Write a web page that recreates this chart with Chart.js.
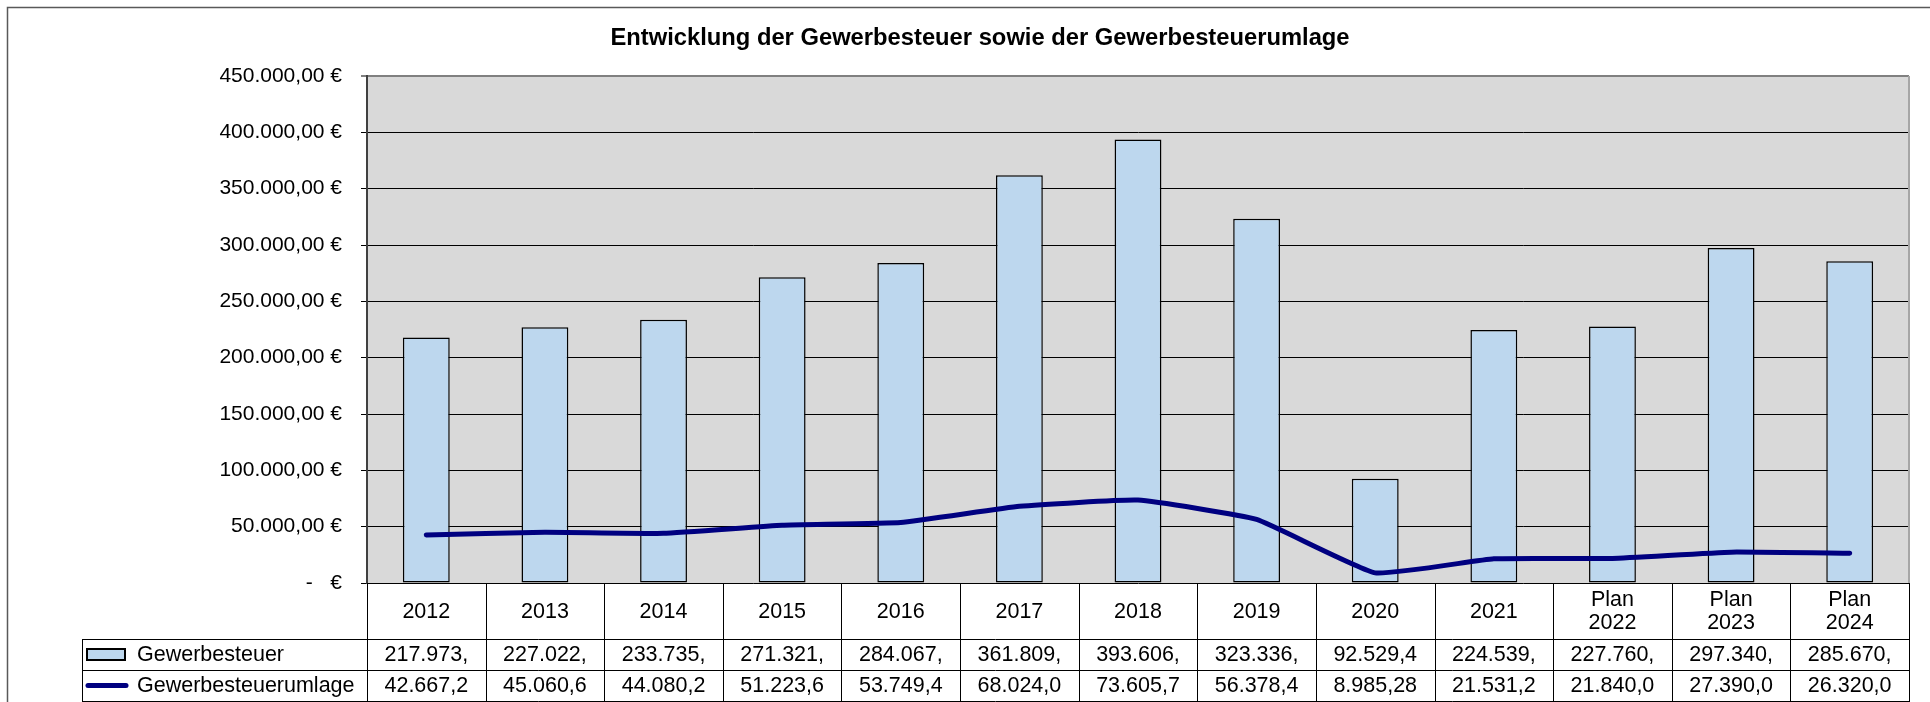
<!DOCTYPE html>
<html lang="de">
<head>
    <meta charset="UTF-8">
    <title>Entwicklung der Gewerbesteuer</title>
    <script src="https://cdn.jsdelivr.net/npm/chart.js"></script>
    <style>
        body {
            margin: 0;
            background: #fff;
        }
        #chart {
            display: block;
        }
    </style>
    <script type="text/javascript">
        var chartTitle = 'Entwicklung der Gewerbesteuer sowie der Gewerbesteuerumlage';
        var categories = ['2012', '2013', '2014', '2015', '2016', '2017', '2018', '2019', '2020', '2021',
            ['Plan', '2022'], ['Plan', '2023'], ['Plan', '2024']];
        var seriesNames = ['Gewerbesteuer', 'Gewerbesteuerumlage'];
        var gewerbesteuer = [217973, 227022, 233735, 271321, 284067, 361809, 393606, 323336, 92529.4, 224539, 227760, 297340, 285670];
        var umlage = [42667.2, 45060.6, 44080.2, 51223.6, 53749.4, 68024.0, 73605.7, 56378.4, 8985.28, 21531.2, 21840.0, 27390.0, 26320.0];
        var yMin = 0;
        var yMax = 450000;
        var yStep = 50000;

        var FONT = '"Liberation Sans", Arial, sans-serif';
        var barFill = '#BDD7EE';
        var lineColor = '#000080';

        // German currency format, 1234.5 -> "1.234,50 €"
        function euro(v) {
            var parts = v.toFixed(2).split('.');
            var whole = parts[0].replace(/\B(?=(\d{3})+(?!\d))/g, '.');
            return whole + ',' + parts[1] + ' €';
        }

        // Excel cuts the text of a data table cell when it does not fit
        function fitText(ctx, s, maxW) {
            while (s.length > 0 && ctx.measureText(s).width > maxW) {
                s = s.slice(0, -1);
            }
            return s.replace(/\s+$/, '');
        }

        var sheetPlugin = {
            id: 'sheet',
            beforeDraw: function(chart) {
                var ctx = chart.ctx;
                var a = chart.chartArea;
                ctx.save();
                ctx.fillStyle = '#D9D9D9';
                ctx.fillRect(a.left, a.top, a.right - a.left, a.bottom - a.top);
                // outer frame of the chart object
                ctx.strokeStyle = '#595959';
                ctx.lineWidth = 1.5;
                ctx.beginPath();
                ctx.moveTo(7.5, 710);
                ctx.lineTo(7.5, 7.5);
                ctx.lineTo(1940, 7.5);
                ctx.stroke();
                // title
                ctx.fillStyle = '#000';
                ctx.font = 'bold 23.75px ' + FONT;
                ctx.textAlign = 'center';
                ctx.textBaseline = 'middle';
                ctx.fillText(chartTitle, 980, 38);
                ctx.restore();
            },
            afterDraw: function(chart) {
                var ctx = chart.ctx;
                var a = chart.chartArea;
                var x = chart.scales.x;
                var half = (x.getPixelForValue(1) - x.getPixelForValue(0)) / 2;
                var top = a.bottom;
                var row0 = top + 56;
                var row1 = row0 + 31;
                var row2 = row1 + 31;
                var legendLeft = 82;

                ctx.save();
                // right edge of plot area
                ctx.strokeStyle = '#A6A6A6';
                ctx.lineWidth = 2;
                ctx.beginPath();
                ctx.moveTo(a.right, a.top);
                ctx.lineTo(a.right, a.bottom);
                ctx.stroke();

                // table grid
                ctx.strokeStyle = '#000';
                ctx.lineWidth = 1;
                ctx.beginPath();
                [row0, row1, row2].forEach(function(y) {
                    ctx.moveTo(legendLeft, Math.round(y) + 0.5);
                    ctx.lineTo(a.right, Math.round(y) + 0.5);
                });
                ctx.moveTo(legendLeft + 0.5, row0);
                ctx.lineTo(legendLeft + 0.5, row2 + 1);
                for (var i = 0; i <= categories.length; i++) {
                    var xe = Math.round(x.getPixelForValue(i) - half) + 0.5;
                    ctx.moveTo(xe, top);
                    ctx.lineTo(xe, row2 + 1);
                }
                ctx.stroke();

                // category row
                ctx.fillStyle = '#000';
                ctx.font = '21.5px ' + FONT;
                ctx.textAlign = 'center';
                ctx.textBaseline = 'middle';
                var catMid = (top + row0) / 2;
                categories.forEach(function(c, i) {
                    var cx = x.getPixelForValue(i);
                    if (Array.isArray(c)) {
                        ctx.fillText(c[0], cx, catMid - 11);
                        ctx.fillText(c[1], cx, catMid + 12);
                    } else {
                        ctx.fillText(c, cx, catMid + 1);
                    }
                });

                // data rows
                var rows = [gewerbesteuer, umlage];
                var mids = [(row0 + row1) / 2 + 1, (row1 + row2) / 2 + 1];
                rows.forEach(function(vals, r) {
                    vals.forEach(function(v, i) {
                        var s = fitText(ctx, euro(v), half * 2 * 0.76);
                        ctx.fillText(s, x.getPixelForValue(i), mids[r]);
                    });
                });

                // legend keys
                ctx.fillStyle = barFill;
                ctx.fillRect(87, 649, 38, 11);
                ctx.strokeStyle = '#000';
                ctx.lineWidth = 2;
                ctx.strokeRect(87, 649, 38, 11);
                ctx.strokeStyle = lineColor;
                ctx.lineWidth = 5;
                ctx.lineCap = 'round';
                ctx.beginPath();
                ctx.moveTo(88, 685.5);
                ctx.lineTo(126, 685.5);
                ctx.stroke();
                ctx.fillStyle = '#000';
                ctx.textAlign = 'left';
                ctx.fillText(seriesNames[0], 137, mids[0]);
                ctx.fillText(seriesNames[1], 137, mids[1]);
                ctx.restore();
            }
        };

        document.addEventListener('DOMContentLoaded', function() {
            var ctx = document.getElementById('chart').getContext('2d');
            new Chart(ctx, {
                data: {
                    labels: categories,
                    datasets: [{
                        type: 'line',
                        label: seriesNames[1],
                        data: umlage,
                        borderColor: lineColor,
                        borderWidth: 5,
                        borderCapStyle: 'round',
                        borderJoinStyle: 'round',
                        pointRadius: 0,
                        tension: 0.12,
                        order: 0
                    }, {
                        type: 'bar',
                        label: seriesNames[0],
                        data: gewerbesteuer,
                        backgroundColor: barFill,
                        borderColor: '#000',
                        borderWidth: 1.5,
                        borderSkipped: false,
                        categoryPercentage: 1,
                        barPercentage: 0.395,
                        order: 1
                    }]
                },
                plugins: [sheetPlugin],
                options: {
                    responsive: false,
                    animation: false,
                    layout: {
                        padding: { left: 0, top: 76, right: 21, bottom: 0 }
                    },
                    plugins: {
                        legend: { display: false },
                        title: { display: false },
                        tooltip: { enabled: false }
                    },
                    scales: {
                        x: {
                            offset: true,
                            grid: { display: false },
                            border: { display: false },
                            ticks: { display: false },
                            afterFit: function(scale) {
                                scale.height = 119;
                            }
                        },
                        y: {
                            min: yMin,
                            max: yMax,
                            afterFit: function(scale) {
                                scale.width = 367;
                            },
                            border: { color: '#404040', width: 2 },
                            grid: {
                                color: function(c) {
                                    return c.tick && c.tick.value === yMax ? '#808080' : '#000';
                                },
                                lineWidth: function(c) {
                                    return c.tick && c.tick.value === yMax ? 2 : 1;
                                },
                                tickLength: 6
                            },
                            ticks: {
                                stepSize: yStep,
                                padding: 19,
                                color: '#000',
                                font: { family: FONT, size: 21 },
                                callback: function(v) {
                                    return v === 0 ? '-   €' : euro(v);
                                }
                            }
                        }
                    }
                }
            });
        });
    </script>
</head>
<body>
    <canvas id="chart" width="1930" height="702"></canvas>
</body>
</html>
